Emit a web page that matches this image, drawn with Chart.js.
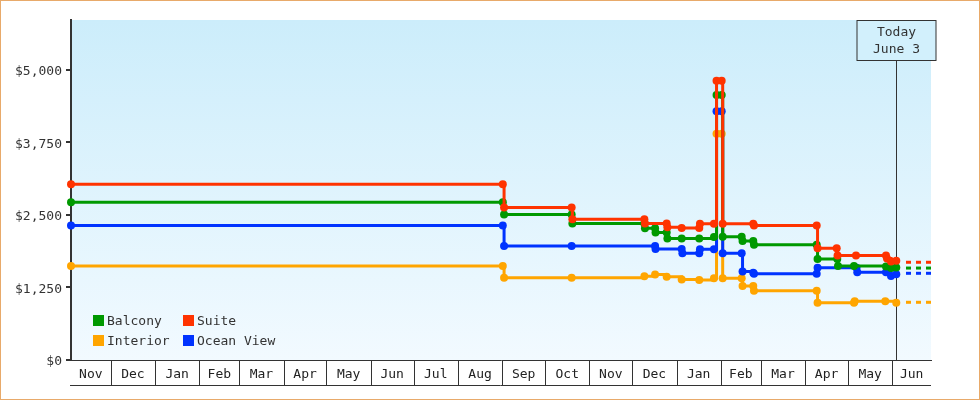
<!DOCTYPE html>
<html>
<head>
<meta charset="utf-8">
<script src="https://cdn.jsdelivr.net/npm/chart.js@4.4.0/dist/chart.umd.min.js"></script>
<style>
  body { margin: 0; background: #fff; }
  #wrap { position: relative; width: 980px; height: 400px; }
  #wrap::after { content: ""; position: absolute; left: 0; top: 0; right: 0; bottom: 0; border: 1px solid #e8aa6a; pointer-events: none; }
  #legend { position: absolute; left: 93px; top: 310px; display: grid; grid-template-columns: 90px 110px; grid-auto-rows: 20.5px; font: 13px "DejaVu Sans Mono", monospace; color: #333; }
  .item { display: flex; align-items: center; white-space: pre; }
  .box { width: 11px; height: 11px; margin-right: 3px; flex: none; }
</style>
</head>
<body>
<div id="wrap">
  <canvas id="myChart" width="980" height="400"></canvas>
  <div id="legend"></div>
</div>
<script>
// x values are days counted from Nov 1 of the first year
const monthLabels = ["Nov", "Dec", "Jan", "Feb", "Mar", "Apr", "May", "Jun", "Jul", "Aug",
  "Sep", "Oct", "Nov", "Dec", "Jan", "Feb", "Mar", "Apr", "May", "Jun"];
const monthStarts = [0, 30, 61, 92, 120, 151, 181, 212, 242, 273, 304, 334, 365, 395, 426, 457, 485, 516, 546, 577, 607];
const firstDay = 2.2;
const lastDay = 604.1;
const today = 579.8;
const todayText = ["Today", "June 3"];
const yTicks = [0, 1250, 2500, 3750, 5000];
const yMax = 5862;

const suiteDays = [2.2, 304.4, 305.3, 352.6, 353.1, 403.5, 403.9, 419.1, 419.6, 429.6, 441.9, 442.4, 452.2,
  454.0, 457.6, 458.3, 479.7, 480.2, 524.1, 524.7, 538.1, 538.7, 551.6, 572.6, 573.3, 576.1, 579.8];
const suitePrices = [3030, 3030, 2630, 2630, 2425, 2425, 2355, 2355, 2290, 2275, 2275, 2350, 2350,
  4815, 4815, 2350, 2350, 2320, 2320, 1925, 1925, 1800, 1800, 1800, 1750, 1700, 1710];

const balconyDays = [2.2, 304.4, 305.3, 352.6, 353.1, 403.5, 403.9, 411.0, 411.3, 419.1, 419.6, 429.6, 441.9,
  452.2, 454.0, 457.6, 458.3, 471.6, 472.2, 479.7, 480.2, 524.1, 524.7, 538.5, 539.0, 550.2, 572.6, 576.1, 579.8];
const balconyPrices = [2720, 2720, 2510, 2510, 2355, 2355, 2270, 2270, 2200, 2200, 2095, 2095, 2095,
  2120, 4570, 4570, 2125, 2125, 2050, 2050, 1985, 1985, 1740, 1740, 1620, 1620, 1610, 1585, 1595];

const oceanDays = [2.2, 304.4, 305.3, 352.6, 411.0, 411.3, 429.6, 430.1, 441.9, 442.4, 452.2, 454.0, 457.6,
  458.3, 471.6, 472.2, 479.7, 480.2, 524.1, 524.7, 552.0, 552.5, 572.6, 576.1, 579.8];
const oceanPrices = [2320, 2320, 1965, 1965, 1965, 1915, 1915, 1840, 1840, 1910, 1910, 4290, 4290,
  1840, 1840, 1525, 1505, 1485, 1485, 1590, 1590, 1512, 1512, 1450, 1480];

const interiorDays = [2.2, 304.4, 305.3, 352.6, 403.5, 411.0, 419.1, 429.6, 441.9, 452.2, 454.0, 457.6,
  458.3, 471.6, 472.2, 479.7, 480.2, 524.1, 524.7, 550.2, 550.7, 572.1, 579.8];
const interiorPrices = [1620, 1620, 1420, 1420, 1445, 1475, 1435, 1390, 1380, 1410, 3900, 3900,
  1410, 1410, 1275, 1275, 1195, 1195, 985, 985, 1015, 1015, 985];

// dotted projection past today
const projectionDays = [586.6, 604.1];
const suiteProjection = [1685, 1685];
const balconyProjection = [1585, 1585];
const oceanProjection = [1495, 1495];
const interiorProjection = [995, 995];

const colors = {
  Suite: "#ff3300",
  Balcony: "#009900",
  "Ocean View": "#0033ff",
  Interior: "#ffa500",
};
const legendOrder = ["Balcony", "Suite", "Interior", "Ocean View"];

const points = (days, prices) => days.map((d, i) => ({ x: d, y: prices[i] }));

const series = (label, days, prices) => ({
  label: label,
  data: points(days, prices),
  borderColor: colors[label],
  backgroundColor: colors[label],
  borderWidth: 3,
  stepped: "before",
  pointRadius: 4,
  pointHoverRadius: 4,
  pointBorderWidth: 0,
  pointBackgroundColor: colors[label],
  clip: false,
});

const projection = (label, prices) => ({
  label: label + " projection",
  data: points(projectionDays, prices),
  borderColor: colors[label],
  borderWidth: 3,
  borderDash: [5, 5],
  pointRadius: 0,
  clip: false,
});

const fontFamily = '"DejaVu Sans Mono", monospace';

const chartDecor = {
  id: "chartDecor",
  beforeDraw(chart) {
    const { ctx, chartArea: a } = chart;
    const g = ctx.createLinearGradient(0, a.top, 0, a.bottom);
    g.addColorStop(0, "#ccedfb");
    g.addColorStop(1, "#f2faff");
    ctx.save();
    ctx.fillStyle = g;
    ctx.fillRect(a.left, a.top, a.right - a.left, a.bottom - a.top);
    ctx.restore();
  },
  beforeDatasetsDraw(chart) {
    const { ctx, chartArea: a } = chart;
    const x = Math.round(chart.scales.x.getPixelForValue(today)) + 0.5;
    ctx.save();
    ctx.strokeStyle = "#333";
    ctx.lineWidth = 1;
    ctx.beginPath();
    ctx.moveTo(x, a.top + 40);
    ctx.lineTo(x, a.bottom);
    ctx.stroke();
    ctx.fillStyle = "#d2f0fc";
    ctx.fillRect(x - 39.5, a.top + 0.5, 79, 40);
    ctx.strokeRect(x - 39.5, a.top + 0.5, 79, 40);
    ctx.fillStyle = "#333";
    ctx.font = "13px " + fontFamily;
    ctx.textAlign = "center";
    ctx.textBaseline = "middle";
    ctx.fillText(todayText[0], x, a.top + 13);
    ctx.fillText(todayText[1], x, a.top + 30);
    ctx.restore();
  },
  afterDraw(chart) {
    const { ctx, chartArea: a } = chart;
    const xs = chart.scales.x;
    ctx.save();
    ctx.strokeStyle = "#333";
    ctx.lineWidth = 1;
    ctx.beginPath();
    monthStarts.forEach((d) => {
      if (d <= firstDay || d >= lastDay) return;
      const x = Math.round(xs.getPixelForValue(d)) + 0.5;
      ctx.moveTo(x, a.bottom);
      ctx.lineTo(x, a.bottom + 25);
    });
    ctx.moveTo(a.left - 1, a.bottom + 25.5);
    ctx.lineTo(a.right, a.bottom + 25.5);
    ctx.stroke();
    ctx.restore();
  },
};

Chart.defaults.font.family = fontFamily;
Chart.defaults.font.size = 13;
Chart.defaults.color = "#333";

const config = {
  type: "line",
  data: {
    datasets: [
      series("Suite", suiteDays, suitePrices),
      series("Balcony", balconyDays, balconyPrices),
      series("Ocean View", oceanDays, oceanPrices),
      series("Interior", interiorDays, interiorPrices),
      projection("Suite", suiteProjection),
      projection("Balcony", balconyProjection),
      projection("Ocean View", oceanProjection),
      projection("Interior", interiorProjection),
    ],
  },
  options: {
    responsive: false,
    animation: false,
    layout: { padding: { left: 0, right: 49, top: 20, bottom: 0 } },
    plugins: {
      legend: { display: false },
      tooltip: { enabled: false },
    },
    scales: {
      x: {
        type: "linear",
        min: firstDay,
        max: lastDay,
        afterFit: (scale) => {
          scale.height = 40;
        },
        afterBuildTicks: (scale) => {
          scale.ticks = monthLabels.map((m, i) => ({
            value: (Math.max(monthStarts[i], firstDay) + Math.min(monthStarts[i + 1], lastDay)) / 2,
          }));
        },
        ticks: {
          autoSkip: false,
          maxRotation: 0,
          padding: 7,
          color: "#222",
          callback: (v, i) => monthLabels[i],
        },
        grid: { display: false, drawTicks: false },
        border: { display: true, color: "#333", width: 1 },
      },
      y: {
        min: 0,
        max: yMax,
        afterFit: (scale) => {
          scale.width = 71;
        },
        afterBuildTicks: (scale) => {
          scale.ticks = yTicks.map((v) => ({ value: v }));
        },
        ticks: {
          padding: 4,
          labelOffset: 2,
          color: "#333",
          callback: (v) => "$" + v.toLocaleString("en-US"),
        },
        grid: {
          display: true,
          drawOnChartArea: false,
          drawTicks: true,
          tickLength: 5,
          color: "#333",
          lineWidth: 2,
        },
        border: { display: true, color: "#333", width: 2 },
      },
    },
  },
  plugins: [chartDecor],
};

const myChart = new Chart(document.getElementById("myChart"), config);

const legend = document.getElementById("legend");
legendOrder.forEach((name) => {
  const item = document.createElement("div");
  item.className = "item";
  const box = document.createElement("span");
  box.className = "box";
  box.style.background = colors[name];
  item.appendChild(box);
  item.appendChild(document.createTextNode(name));
  legend.appendChild(item);
});
</script>
</body>
</html>
